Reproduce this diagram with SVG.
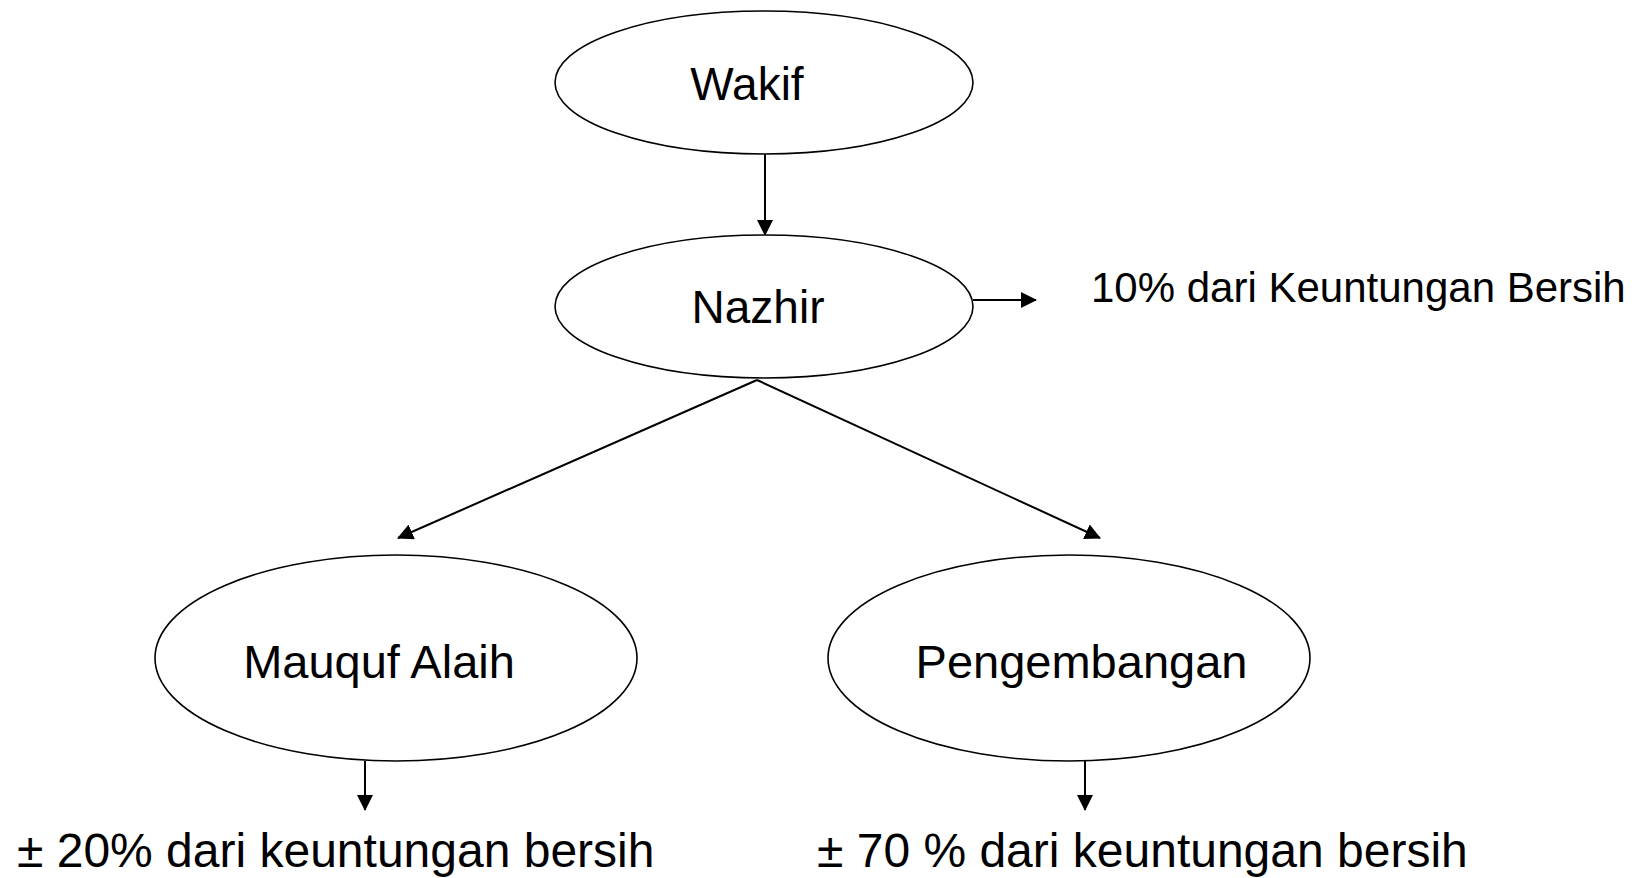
<svg xmlns="http://www.w3.org/2000/svg" width="1650" height="878" viewBox="0 0 1650 878">
<style>
.node{fill:#fff;stroke:#000;stroke-width:1.6}
.lbl{font-family:"Liberation Sans",Arial,sans-serif;fill:#000}
.c{stroke:#000;stroke-width:2;fill:none}
</style>
<defs>
<marker id="ah" markerWidth="16" markerHeight="16" refX="15" refY="8" orient="auto" markerUnits="userSpaceOnUse">
<path d="M0,0 L16,8 L0,16 Z" fill="#000"/>
</marker>
</defs>
<rect width="1650" height="878" fill="#fff"/>
<g id="connectors">
<line class="c" x1="765" y1="154" x2="765" y2="235" marker-end="url(#ah)"/>
<line class="c" x1="973" y1="300" x2="1036" y2="300" stroke-width="3" marker-end="url(#ah)"/>
<line class="c" x1="757" y1="380" x2="398" y2="538" marker-end="url(#ah)"/>
<line class="c" x1="757" y1="380" x2="1100" y2="538" marker-end="url(#ah)"/>
<line class="c" x1="365" y1="761" x2="365" y2="810" marker-end="url(#ah)"/>
<line class="c" x1="1085" y1="761" x2="1085" y2="810" marker-end="url(#ah)"/>
</g>
<g id="wakif">
<ellipse class="node" cx="764" cy="82.5" rx="209" ry="71.5"/>
<text class="lbl" x="747" y="100" font-size="46" text-anchor="middle">Wakif</text>
</g>
<g id="nazhir">
<ellipse class="node" cx="764" cy="306.5" rx="209" ry="71.5"/>
<text class="lbl" x="758" y="323" font-size="46" text-anchor="middle">Nazhir</text>
</g>
<g id="nazhir-share">
<text class="lbl" x="1091" y="302" font-size="42">10% dari Keuntungan Bersih</text>
</g>
<g id="mauquf">
<ellipse class="node" cx="396" cy="658" rx="241" ry="103"/>
<text class="lbl" x="379" y="678" font-size="47" text-anchor="middle">Mauquf Alaih</text>
</g>
<g id="pengembangan">
<ellipse class="node" cx="1069" cy="658" rx="241" ry="103"/>
<text class="lbl" x="1081.5" y="678" font-size="47" text-anchor="middle">Pengembangan</text>
</g>
<g id="mauquf-share">
<text class="lbl" x="17" y="867" font-size="48">± 20% dari keuntungan bersih</text>
</g>
<g id="pengembangan-share">
<text class="lbl" x="817" y="867" font-size="48">± 70 % dari keuntungan bersih</text>
</g>
</svg>
